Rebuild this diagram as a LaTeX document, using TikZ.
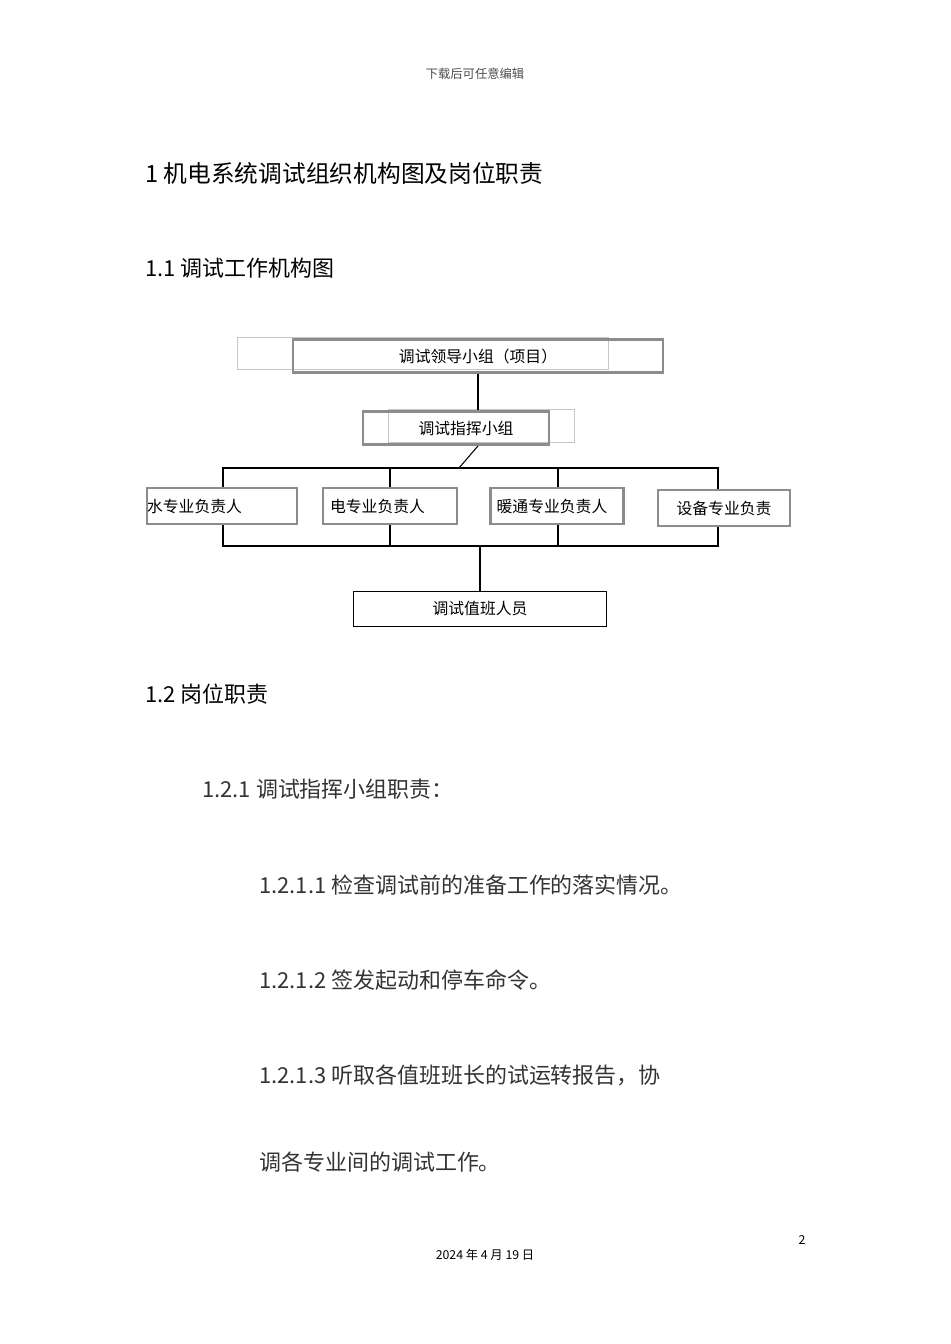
\documentclass[tikz,border=0pt]{standalone}
\usepackage{fontspec}
\setmainfont{Noto Sans CJK SC}
\usepackage{tikz}
\colorlet{boxGray}{gray!90}
\colorlet{ghostGray}{gray!45}

\begin{document}
\begin{tikzpicture}[
  x=0.02cm, y=-0.02cm,
  every node/.style={inner sep=0pt},
  heavy box/.style={draw=boxGray, line width=1.6pt, minimum height=0.66cm, font=\fontsize{9}{10}\selectfont},
  ghost box/.style={draw=ghostGray, line width=0.4pt},
  plain box/.style={draw, line width=0.6pt, minimum height=0.7cm, font=\fontsize{9}{10}\selectfont},
  heading/.style={anchor=west, font=\fontsize{12.5}{14}\selectfont},
  body text/.style={anchor=west, font=\fontsize{12.5}{14}\selectfont, text=black!80},
  link/.style={line width=0.6pt}
]
\useasboundingbox (0,0) rectangle (950,1344);

% page texts
\node[font=\fontsize{7}{8}\selectfont, text=black!70] (head) at (475,74) {下载后可任意编辑};
\node[heading, font=\fontsize{13.5}{15}\selectfont] (title) at (145,173) {1 机电系统调试组织机构图及岗位职责};
\node[heading] (sec11) at (145,268) {1.1 调试工作机构图};

% chart
\draw[ghost box] (237,337) rectangle (608,369);
\node[heavy box, minimum width=7.4cm] (lead) at (478,356) {调试领导小组（项目）};
\draw[ghost box] (388,409) rectangle (574,442);
\node[heavy box, minimum width=3.72cm] (cmd) at (456,428) {\hspace*{0.4cm}调试指挥小组};

\node[heavy box, minimum width=2.66cm, minimum height=0.72cm] (water) at (222,506) {水专业负责人\hspace*{1.1cm}};
\node[heavy box, minimum width=2.68cm, minimum height=0.72cm] (elec) at (390,506) {电专业负责人\hspace*{0.5cm}};
\node[heavy box, minimum width=2.66cm, minimum height=0.72cm] (hvac) at (557,506) {暖通专业负责人\hspace*{0.2cm}};
\node[heavy box, minimum width=2.64cm, minimum height=0.72cm] (equip) at (724,508) {设备专业负责};
\node[plain box, minimum width=5.06cm] (duty) at (480,609) {调试值班人员};

\coordinate (busA) at (459,468);
\coordinate (busB) at (480,546);
\draw[link] (lead) -- (cmd.north -| lead);
\draw[link] (cmd.south -| lead) -- (busA);
\draw[link] (water.north -| 223,0) |- (busA) -| (equip.north -| 718,0);
\foreach \n/\x in {elec/390, hvac/558}
  \draw[link] (busA -| \x,0) -- (\n.north -| \x,0);
\draw[link] (water.south -| 223,0) |- (busB) -| (equip.south -| 718,0);
\foreach \n/\x in {elec/390, hvac/558}
  \draw[link] (\n.south -| \x,0) -- (busB -| \x,0);
\draw[link] (busB) -- (duty);

% duties
\node[heading] (sec12) at (145,694) {1.2 岗位职责};
\node[body text] (sec121) at (202,789) {1.2.1 调试指挥小组职责：};
\node[body text] (d1) at (259,885) {1.2.1.1 检查调试前的准备工作的落实情况。};
\node[body text] (d2) at (259,980) {1.2.1.2 签发起动和停车命令。};
\node[body text] (d3) at (259,1075) {1.2.1.3 听取各值班班长的试运转报告，协};
\node[body text] (d3b) at (259,1162) {调各专业间的调试工作。};

% footer
\node[font=\fontsize{7}{8}\selectfont] (pageno) at (802,1240) {2};
\node[font=\fontsize{7}{8}\selectfont] (date) at (485,1255) {2024 年 4 月 19 日};
\end{tikzpicture}
\end{document}
